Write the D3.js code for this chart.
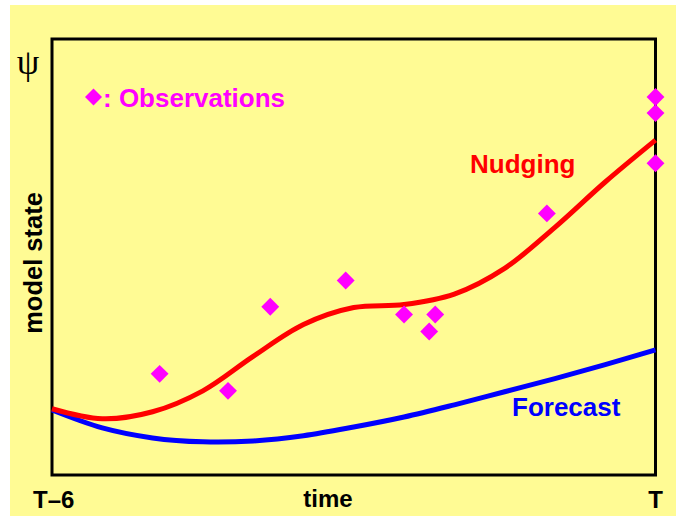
<!DOCTYPE html>
<html>
<head>
<meta charset="utf-8">
<script src="https://cdn.jsdelivr.net/npm/d3@7"></script>
<style>
  body { margin: 0; background: #fff; }
  svg { display: block; }
</style>
</head>
<body>
<div id="chart"></div>
<script>
var w = 676,
  h = 516;

// time in hours relative to T
var times = [-6, -5.5, -5, -4.5, -4, -3.5, -3, -2.5, -2, -1.5, -1, -0.5, 0];
var nudging = [1.52, 1.29, 1.45, 1.93, 2.72, 3.45, 3.84, 3.91, 4.15, 4.74, 5.68, 6.72, 7.68];
var forecast = [1.49, 1.08, 0.85, 0.76, 0.78, 0.9, 1.1, 1.33, 1.61, 1.91, 2.21, 2.53, 2.87];

var obsTime = [-4.93, -4.25, -3.83, -3.08, -2.5, -2.25, -2.19, -1.08, 0, 0, 0];
var obsValue = [2.32, 1.93, 3.86, 4.46, 3.68, 3.29, 3.68, 6.0, 8.67, 8.3, 7.15];

var tickLabels = ["T\u20136", "T"];

var svg = d3.select("#chart").append("svg").attr("width", w).attr("height", h);

svg.append("rect").attr("x", 10).attr("y", 5).attr("width", w - 10).attr("height", h - 5)
  .attr("fill", "#fffb94");

var x = d3.scaleLinear().domain([-6, 0]).range([52, 655.5]);
var y = d3.scaleLinear().domain([0, 10]).range([475, 39]);

var font = "'Liberation Sans', Arial, sans-serif";

// frame
svg.append("rect").attr("x", x(-6)).attr("y", y(10))
  .attr("width", x(0) - x(-6)).attr("height", y(0) - y(10))
  .attr("fill", "none").attr("stroke", "#000").attr("stroke-width", 3);

var line = d3.line().curve(d3.curveCatmullRom.alpha(0.5));

function pts(vals) {
  return times.map(function (t, i) { return [x(t), y(vals[i])]; });
}

svg.append("path").attr("d", line(pts(forecast)))
  .attr("fill", "none").attr("stroke", "#0000ff").attr("stroke-width", 5);
svg.append("path").attr("d", line(pts(nudging)))
  .attr("fill", "none").attr("stroke", "#ff0000").attr("stroke-width", 5);

var diamond = d3.symbol().type(d3.symbolSquare).size(160);

svg.selectAll(".obs").data(obsTime).enter().append("path")
  .attr("class", "obs")
  .attr("d", diamond)
  .attr("transform", function (d, i) { return "translate(" + x(d) + "," + y(obsValue[i]) + ") rotate(45)"; })
  .attr("fill", "#ff00ff");

// legend
svg.append("path").attr("d", d3.symbol().type(d3.symbolSquare).size(145))
  .attr("transform", "translate(93.5,97) rotate(45)").attr("fill", "#ff00ff");
svg.append("text").attr("x", 103).attr("y", 107).text(": Observations")
  .attr("font-family", font).attr("font-weight", "bold").attr("font-size", 26).attr("fill", "#ff00ff");

svg.append("text").attr("x", 470).attr("y", 173).text("Nudging")
  .attr("font-family", font).attr("font-weight", "bold").attr("font-size", 26).attr("fill", "#ff0000");
svg.append("text").attr("x", 512).attr("y", 416).text("Forecast")
  .attr("font-family", font).attr("font-weight", "bold").attr("font-size", 26).attr("fill", "#0000ff");

// axis labels
svg.append("text").attr("x", 33).attr("y", 508).text(tickLabels[0])
  .attr("font-family", font).attr("font-weight", "bold").attr("font-size", 24);
svg.append("text").attr("x", x(0)).attr("y", 508).attr("text-anchor", "middle").text(tickLabels[1])
  .attr("font-family", font).attr("font-weight", "bold").attr("font-size", 24);
svg.append("text").attr("x", 328).attr("y", 507).attr("text-anchor", "middle").text("time")
  .attr("font-family", font).attr("font-weight", "bold").attr("font-size", 24);
svg.append("text").attr("transform", "translate(42,263) rotate(-90)").attr("text-anchor", "middle")
  .text("model state")
  .attr("font-family", font).attr("font-weight", "bold").attr("font-size", 25.5);
svg.append("text").attr("x", 28).attr("y", 74).attr("text-anchor", "middle").text("\u03c8")
  .attr("font-family", "'Liberation Serif', 'DejaVu Serif', serif").attr("font-size", 36);
</script>
</body>
</html>
